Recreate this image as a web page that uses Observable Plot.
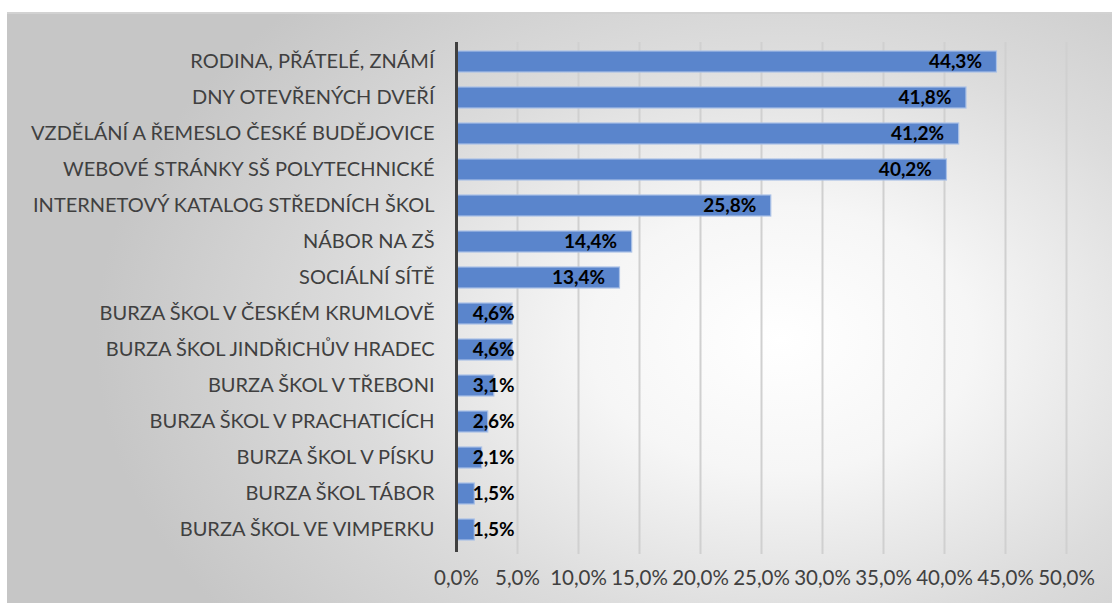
<!DOCTYPE html>
<html>
<head>
<meta charset="utf-8">
<script src="https://cdn.jsdelivr.net/npm/d3@7"></script>
<script src="https://cdn.jsdelivr.net/npm/@observablehq/plot@0.6"></script>
<style>
  html, body { margin: 0; padding: 0; width: 1112px; height: 603px; overflow: hidden; background: #ffffff; }
  #bg { position: absolute; left: 7px; top: 12px; width: 1105px; height: 591px;
        border-top: 2px solid #d2d2d2;
        background: radial-gradient(ellipse 62% 80% at 70% 55%, #ffffff 0%, #f6f6f6 28%, #dcdcdc 62%, #c6c6c6 100%); }
  #chart { position: absolute; left: 0; top: 0; }
</style>
</head>
<body>
<div id="bg"></div>
<div id="chart"></div>
<script>
const categories = [
  "RODINA, PŘÁTELÉ, ZNÁMÍ",
  "DNY OTEVŘENÝCH DVEŘÍ",
  "VZDĚLÁNÍ A ŘEMESLO ČESKÉ BUDĚJOVICE",
  "WEBOVÉ STRÁNKY SŠ POLYTECHNICKÉ",
  "INTERNETOVÝ KATALOG STŘEDNÍCH ŠKOL",
  "NÁBOR NA ZŠ",
  "SOCIÁLNÍ SÍTĚ",
  "BURZA ŠKOL V ČESKÉM KRUMLOVĚ",
  "BURZA ŠKOL JINDŘICHŮV HRADEC",
  "BURZA ŠKOL V TŘEBONI",
  "BURZA ŠKOL V PRACHATICÍCH",
  "BURZA ŠKOL V PÍSKU",
  "BURZA ŠKOL TÁBOR",
  "BURZA ŠKOL VE VIMPERKU"
];
const values = [44.3, 41.8, 41.2, 40.2, 25.8, 14.4, 13.4, 4.6, 4.6, 3.1, 2.6, 2.1, 1.5, 1.5];
const tickValues = [0, 5, 10, 15, 20, 25, 30, 35, 40, 45, 50];
const tickLabels = ["0,0%", "5,0%", "10,0%", "15,0%", "20,0%", "25,0%", "30,0%", "35,0%", "40,0%", "45,0%", "50,0%"];

const data = categories.map((c, i) => ({category: c, value: values[i]}));
const fmt = v => v.toFixed(1).replace(".", ",") + "%";

const chart = Plot.plot({
  width: 1112,
  height: 603,
  marginLeft: 456,
  marginRight: 46,
  marginTop: 42,
  marginBottom: 55,
  style: {background: "transparent", fontFamily: "Lato, 'Open Sans', sans-serif", overflow: "visible"},
  x: {domain: [0, 50], ticks: tickValues, label: null},
  y: {domain: categories, paddingInner: 0.42, paddingOuter: 0.21, label: null},
  marks: [
    Plot.ruleX(tickValues.slice(1), {stroke: "#d0d0d0", strokeWidth: 2, insetBottom: -6}),
    Plot.barX(data, {x: "value", y: "category", fill: "#5a85cc", stroke: "#a9c0e6", strokeWidth: 1.2}),
    Plot.ruleX([0], {stroke: "#404040", strokeWidth: 3, insetBottom: -4}),
    Plot.text(data, {
      x: d => Math.max(d.value, 6.0), y: "category", text: d => fmt(d.value),
      textAnchor: "end", dx: -15, fill: "#000000", fontWeight: "bold", fontSize: 19
    }),
    Plot.axisY({tickSize: 0, tickPadding: 22, fontSize: 20, fill: "#404040", label: null}),
    Plot.axisX({tickSize: 0, tickPadding: 22, fontSize: 20.5, fill: "#404040", label: null,
      ticks: tickValues, tickFormat: d => tickLabels[tickValues.indexOf(d)]})
  ]
});
document.getElementById("chart").appendChild(chart);
</script>
</body>
</html>
